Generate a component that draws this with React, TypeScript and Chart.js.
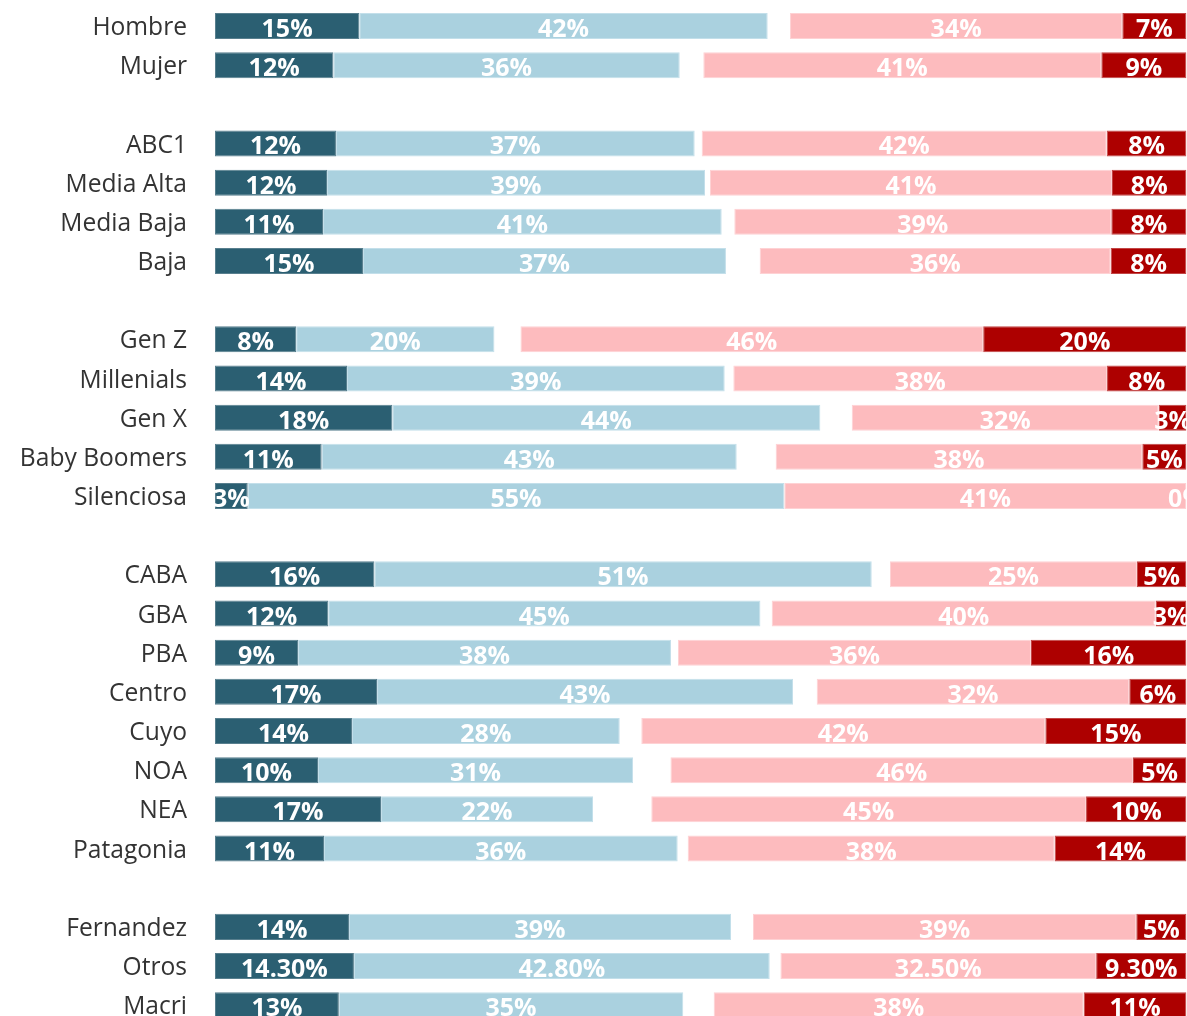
import { useEffect, useRef } from 'react';
import { Chart, registerables } from 'chart.js';

Chart.register(...registerables);

// Categories (empty strings are the blank separator rows)
const categories = [
  'Hombre', 'Mujer', '',
  'ABC1', 'Media Alta', 'Media Baja', 'Baja', '',
  'Gen Z', 'Millenials', 'Gen X', 'Baby Boomers', 'Silenciosa', '',
  'CABA', 'GBA', 'PBA', 'Centro', 'Cuyo', 'NOA', 'NEA', 'Patagonia', '',
  'Fernandez', 'Otros', 'Macri',
];

// Series values (percent)
const muyPositiva = [
  14.85, 12.18, null,
  12.45, 11.53, 11.12, 15.23, null,
  8.1, 13.59, 18.25, 10.98, 3.37, null,
  16.4, 11.66, 8.55, 16.68, 14.1, 10.2, 17.09, 11.22, null,
  13.79, 14.3, 12.75,
];
const positiva = [
  42.04, 35.66, null,
  36.92, 38.91, 41.04, 37.36, null,
  19.8, 38.88, 44.06, 42.72, 55.23, null,
  51.2, 44.51, 38.39, 42.82, 27.56, 31.2, 21.82, 36.41, null,
  39.32, 42.8, 35.45,
];
const nsnc = [
  2.3, 2.43, null,
  0.72, 0.51, 1.3, 3.47, null,
  2.6, 0.89, 3.23, 4.01, 0, null,
  1.88, 1.16, 0.72, 2.44, 2.22, 3.7, 6.0, 1.03, null,
  2.26, 1.1, 3.13,
];
const negativa = [
  34.2, 40.97, null,
  41.69, 41.38, 38.81, 36.13, null,
  46.2, 38.47, 31.6, 37.74, 41.4, null,
  25.42, 39.55, 36.34, 32.18, 41.59, 45.8, 44.75, 37.78, null,
  39.45, 32.5, 38.09,
];
const muyNegativa = [
  6.61, 8.77, null,
  8.21, 7.67, 7.74, 7.8, null,
  20.3, 8.18, 2.86, 4.55, 0, null,
  5.1, 3.17, 16.01, 5.89, 14.53, 5.3, 10.34, 13.57, null,
  5.17, 9.3, 10.58,
];

// Rows whose labels are shown with two decimals
const twoDecimalRows = ['Otros'];

const seriesNames = ['Muy positiva', 'Positiva', 'NS/NC', 'Negativa', 'Muy negativa'];
const seriesColors = ['#2B5F72', '#AAD1DF', 'rgba(0,0,0,0)', '#FDBBBE', '#AD0000'];
const borderColors = ['#587F8E', '#C3DFEA', 'rgba(0,0,0,0)', '#FED2D4', '#C24545'];

const rawSeries = [muyPositiva, positiva, nsnc, negativa, muyNegativa];
const totals = categories.map((_, j) =>
  rawSeries.reduce((s, arr) => s + (arr[j] ?? 0), 0)
);
const normalized = rawSeries.map((arr) =>
  arr.map((v, j) => (v == null ? null : (v / totals[j]) * 100))
);

const labelPlugin = {
  id: 'segmentLabels',
  afterDatasetsDraw(chart: any) {
    const ctx = chart.ctx;
    ctx.save();
    ctx.font = 'bold 25px "Open Sans"';
    ctx.fillStyle = '#ffffff';
    ctx.textAlign = 'center';
    ctx.textBaseline = 'alphabetic';
    rawSeries.forEach((arr, i) => {
      if (i === 2) return;
      const meta = chart.getDatasetMeta(i);
      meta.data.forEach((el: any, j: number) => {
        const v = arr[j];
        if (v == null) return;
        const { x, base, y } = el.getProps(['x', 'base', 'y'], true);
        const two = twoDecimalRows.includes(categories[j]);
        const text = two ? v.toFixed(2) + '%' : Math.round(v) + '%';
        ctx.fillText(text, (x + base) / 2, y + 11);
      });
    });
    ctx.restore();
  },
};

export default function App() {
  const ref = useRef<HTMLCanvasElement>(null);

  useEffect(() => {
    if (!ref.current) return;
    const chart = new Chart(ref.current, {
      type: 'bar',
      data: {
        labels: categories,
        datasets: rawSeries.map((_, i) => ({
          label: seriesNames[i],
          data: normalized[i] as any,
          backgroundColor: seriesColors[i],
          borderColor: borderColors[i],
          borderWidth: i === 2 ? 0 : 1,
          borderSkipped: false,
          barPercentage: 0.664,
          categoryPercentage: 1,
        })),
      },
      options: {
        indexAxis: 'y',
        responsive: true,
        maintainAspectRatio: false,
        animation: false,
        layout: { padding: { top: 6.4, bottom: 5.2, left: 0, right: 0.5 } },
        plugins: {
          legend: { display: false },
          tooltip: { enabled: false },
        },
        scales: {
          x: { stacked: true, min: 0, max: 100, display: false },
          y: {
            stacked: true,
            grid: { display: false, drawTicks: false },
            border: { display: false },
            ticks: {
              autoSkip: false,
              padding: 28,
              labelOffset: 2,
              color: '#333333',
              font: { family: '"Open Sans"', size: 24.6 },
            },
            afterFit: (s: any) => {
              s.width = 215;
              s.paddingTop = 0;
              s.paddingBottom = 0;
            },
          },
        },
      },
      plugins: [labelPlugin],
    });
    return () => chart.destroy();
  }, []);

  return (
    <div
      style={{
        position: 'fixed',
        left: 0,
        top: 0,
        width: 1187,
        height: 1016,
        overflow: 'hidden',
        background: '#ffffff',
      }}
    >
      <div style={{ position: 'relative', width: 1187, height: 1030 }}>
        <canvas ref={ref} />
      </div>
    </div>
  );
}
